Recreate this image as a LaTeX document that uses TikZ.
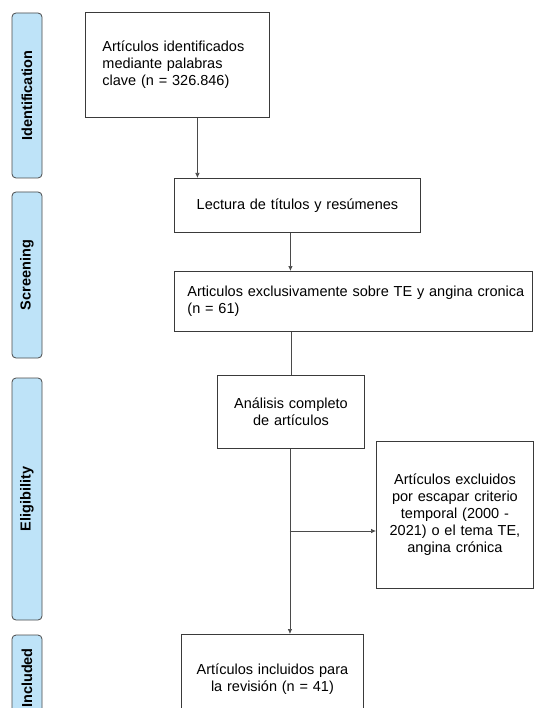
\documentclass[tikz,border=0pt]{standalone}
\usepackage{fontspec}
\setmainfont{Liberation Sans}
\usetikzlibrary{arrows.meta}
\definecolor{faseazul}{HTML}{BEE3F8}
\definecolor{borde}{HTML}{3A3A3A}
\definecolor{linea}{HTML}{4A4A4A}

\begin{document}
\begin{tikzpicture}[x=1pt,y=-1pt,
    font=\fontsize{14.5}{17}\selectfont,
    caja/.style={draw=borde,line width=0.9pt,anchor=north west,inner ysep=0pt},
    fase/.style={draw=linea,line width=0.8pt,fill=faseazul,rounded corners=4pt,
      rotate=90,minimum height=30pt,inner sep=0pt,font=\fontsize{14.5}{17}\selectfont\bfseries},
    flecha/.style={draw=linea,line width=0.7pt,-{Latex[length=5pt,width=4.5pt]}},
    tramo/.style={draw=linea,line width=0.7pt}]
      \useasboundingbox (0,0) rectangle (534,708);
      \clip (0,0) rectangle (534,708);
      % fases
      \node[fase,minimum width=165pt] (identification) at (27,95.5) {Identification};
      \node[fase,minimum width=166pt] (screening) at (27,275) {Screening};
      \node[fase,minimum width=242pt] (eligibility) at (27,499) {Eligibility};
      \node[fase,minimum width=86pt] (included) at (27,678) {Included};
      % cajas
      \node[caja,text width=150pt,inner xsep=17pt,minimum height=105pt,align=left]
        (ident) at (85,12) {Artículos identificados\\mediante palabras\\clave (n = 326.846)\par\vspace*{4pt}};
      \node[caja,text width=230pt,inner xsep=8pt,minimum height=54pt,align=center]
        (lectura) at (174,178) {Lectura de títulos y resúmenes\par\vspace*{8pt}};
      \node[caja,text width=332pt,inner xsep=13pt,minimum height=60pt,align=left]
        (exclusivos) at (174,271) {\mbox{Articulos exclusivamente sobre TE y angina cronica}\\(n = 61)};
      \node[caja,text width=131pt,inner xsep=8pt,minimum height=73pt,align=center]
        (analisis) at (217,375) {Análisis completo\\de artículos\par\vspace*{10pt}};
      \node[caja,text width=141pt,inner xsep=8pt,minimum height=147pt,align=center]
        (excluidos) at (376,441) {Artículos excluidos\\por escapar criterio\\temporal (2000 -\\2021) o el tema TE,\\angina crónica\par\vspace*{14pt}};
      \node[caja,text width=166pt,inner xsep=8pt,minimum height=90pt,align=center]
        (incluidos) at (181,634) {Artículos incluidos para\\la revisión (n = 41)\par\vspace*{24pt}};
      % conectores
      \draw[flecha] ([xshift=20pt]ident.south) -- ([xshift=20pt]ident.south |- lectura.north);
      \draw[flecha] ([xshift=-7pt]lectura.south) -- ([xshift=-7pt]lectura.south |- exclusivos.north);
      \draw[tramo] (analisis.north |- exclusivos.south) -- (analisis.north);
      \draw[flecha] ([xshift=-1pt]analisis.south) -- ([xshift=-1pt]analisis.south |- incluidos.north);
      \coordinate (rama) at ([xshift=-1pt]analisis.south |- 0,531);
      \draw[flecha] (rama) -- (rama -| excluidos.west);
    \end{tikzpicture}
\end{document}
